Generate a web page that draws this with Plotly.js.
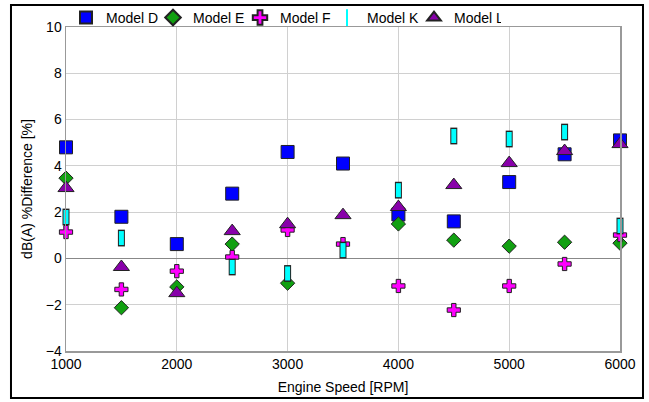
<!DOCTYPE html>
<html><head><meta charset="utf-8">
<script src="https://cdn.plot.ly/plotly-3.0.1.min.js"></script>
<style>html,body{margin:0;padding:0;background:#fff}</style>
</head><body><div id="chart" style="width:649px;height:402px"></div>
<script>
const rpm = [1000, 1500, 2000, 2500, 3000, 3500, 4000, 4500, 5000, 5500, 6000];
const modelD = [4.8, 1.8, 0.62, 2.8, 4.6, 4.1, 1.9, 1.6, 3.3, 4.5, 5.1];
const modelE = [3.47, -2.13, -1.23, 0.62, -1.07, null, 1.49, 0.79, 0.53, 0.7, 0.66];
const modelF = [1.14, -1.34, -0.55, 0.06, 1.23, 0.62, -1.19, -2.23, -1.19, -0.24, 1.01];
const modelK = [1.79, 0.88, null, -0.37, -0.65, 0.36, 2.95, 5.29, 5.16, 5.46, 1.4];
const modelL = [3.04, -0.37, -1.5, 1.18, 1.48, 1.87, 2.22, 3.17, 4.12, 4.64, 4.94];

const outline = {color: '#222', width: 1};
const traces = [
  {x: rpm, y: modelD, name: 'Model D', mode: 'markers', type: 'scatter', cliponaxis: false,
   marker: {symbol: 'square', size: 13, color: '#0000ff', line: outline}},
  {x: rpm, y: modelE, name: 'Model E', mode: 'markers', type: 'scatter', cliponaxis: false,
   marker: {symbol: 'diamond', size: 11, color: '#11a011', line: outline}},
  {x: rpm, y: modelF, name: 'Model F', mode: 'markers', type: 'scatter', cliponaxis: false,
   marker: {symbol: 'cross', size: 11, color: '#ff00ff', line: outline}},
  {x: rpm, y: modelK, name: 'Model K outline', mode: 'markers', type: 'scatter', showlegend: false, hoverinfo: 'skip', cliponaxis: false,
   marker: {symbol: 'line-ns', size: 12, color: '#222', line: {color: '#222', width: 7}}},
  {x: rpm, y: modelK, name: 'Model K', mode: 'markers', type: 'scatter', cliponaxis: false,
   marker: {symbol: 'line-ns', size: 10, color: '#00ffff', line: {color: '#00ffff', width: 5}}},
  {x: rpm, y: modelL, name: 'Model L', mode: 'markers', type: 'scatter', cliponaxis: false,
   marker: {symbol: 'triangle-up', size: 14, color: '#8800aa', line: outline}}
];

const layout = {
  width: 649, height: 402,
  margin: {l: 66, r: 29, t: 27, b: 51, autoexpand: false},
  paper_bgcolor: '#fff', plot_bgcolor: '#fff',
  font: {family: 'Arial, "Liberation Sans", sans-serif', size: 14, color: '#000'},
  showlegend: true,
  legend: {orientation: 'h', x: 0, xanchor: 'left', y: 1.028, yanchor: 'middle',
           entrywidth: 42, entrywidthmode: 'pixels', itemsizing: 'constant',
           font: {size: 14}, bgcolor: 'rgba(0,0,0,0)'},
  xaxis: {range: [1000, 6000], dtick: 1000, tick0: 1000, showgrid: true, gridcolor: '#d0d0d0',
          zeroline: false, showline: true, linecolor: '#999', linewidth: 1.5, mirror: true,
          ticks: '', title: {text: 'Engine Speed [RPM]', font: {size: 14}, standoff: 11}},
  yaxis: {range: [-4, 10], dtick: 2, tick0: -4, showgrid: true, gridcolor: '#d0d0d0',
          zeroline: true, zerolinecolor: '#888', zerolinewidth: 1.5,
          showline: true, linecolor: '#999', linewidth: 1.5, mirror: true,
          ticks: '', title: {text: 'dB(A) %Difference [%]', font: {size: 14}, standoff: 10}},
  shapes: [{type: 'rect', xref: 'paper', yref: 'paper',
            x0: -0.0993, x1: 1.0415, y0: -0.145, y1: 1.068,
            line: {color: '#000', width: 2}, fillcolor: 'rgba(0,0,0,0)'}]
};
Plotly.newPlot('chart', traces, layout, {displayModeBar: false, staticPlot: true});
</script></body></html>
